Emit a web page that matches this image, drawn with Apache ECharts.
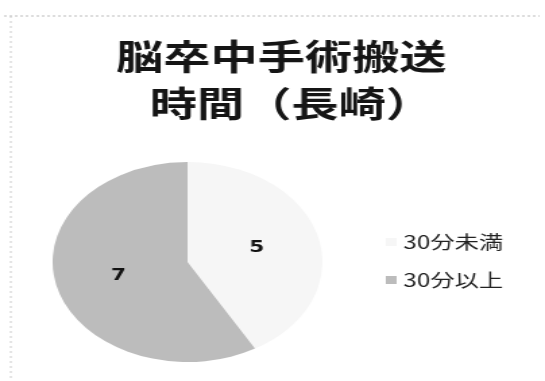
<!DOCTYPE html>
<html><head><meta charset="utf-8">
<script src="https://cdn.jsdelivr.net/npm/echarts@6/dist/echarts.min.js"></script>
<style>
html,body{margin:0;padding:0;background:#fff;overflow:hidden;}
#wrap{position:absolute;left:0;top:0;width:404px;height:381px;transform:scaleX(1.349);transform-origin:0 0;}
</style></head>
<body><div id="wrap"></div>
<script>
const titleLines = ['脳卒中手術搬送', '時間（長崎）'];
const categories = ['30分未満', '30分以上'];
const values = [5, 7];
const colors = ['#f6f6f6', '#bcbcbc'];

const titleStyle = {fontFamily: 'Noto Sans CJK JP', fontSize: 35, fontWeight: 'bold', color: '#151515', lineHeight: 47};
const chart = echarts.init(document.getElementById('wrap'), null, {renderer: 'canvas'});
chart.setOption({
  backgroundColor: '#ffffff',
  animation: false,
  title: [
    {text: titleLines[0], left: 86, top: 33, padding: 0, textStyle: titleStyle},
    {text: titleLines[1], left: 111, top: 80, padding: 0, textStyle: titleStyle}
  ],
  legend: {
    orient: 'vertical',
    left: 281,
    top: 227,
    itemGap: 18,
    itemWidth: 8,
    itemHeight: 8,
    icon: 'rect',
    data: categories,
    textStyle: {fontFamily: 'Noto Sans CJK JP', fontSize: 18, color: '#222', lineHeight: 20}
  },
  graphic: [
    {type: 'line', shape: {x1: 3, y1: 16, x2: 400, y2: 16}, style: {stroke: '#bbb', lineWidth: 1, lineDash: [2, 2]}},
    {type: 'line', shape: {x1: 8, y1: 16, x2: 8, y2: 381}, style: {stroke: '#ccc', lineWidth: 1, lineDash: [2, 3]}}
  ],
  series: [{
    type: 'pie',
    center: [139, 262],
    radius: [0, 100],
    startAngle: 90,
    clockwise: true,
    data: categories.map((c, i) => ({name: c, value: values[i], itemStyle: {color: colors[i]}})),
    label: {
      show: true,
      position: 'inside',
      formatter: '{c}',
      fontFamily: 'DejaVu Sans',
      fontSize: 16,
      fontWeight: 'bold',
      color: '#111'
    },
    labelLine: {show: false},
    itemStyle: {borderWidth: 0}
  }]
});
</script></body></html>
